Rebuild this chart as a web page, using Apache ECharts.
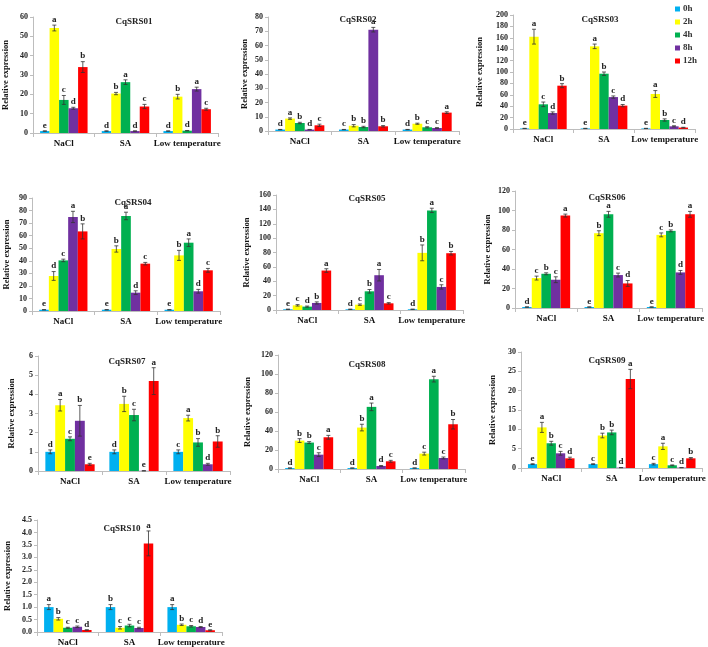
<!DOCTYPE html>
<html>
<head>
<meta charset="utf-8">
<script src="https://cdn.jsdelivr.net/npm/echarts@6/dist/echarts.min.js"></script>
<style>html,body{margin:0;padding:0;background:#fff}#c{width:708px;height:647px}</style>
</head>
<body>
<div id="c"></div>
<script>
const genes = ['CqSRS01','CqSRS02','CqSRS03','CqSRS04','CqSRS05','CqSRS06','CqSRS07','CqSRS08','CqSRS09','CqSRS10'];
const conditions = ['NaCl','SA','Low temperature'];
const times = ['0h','2h','4h','8h','12h'];
const yMax = [60, 80, 200, 90, 160, 120, 6, 120, 30, 4.5];
const yStep = [10, 10, 20, 10, 20, 20, 1, 20, 5, 0.5];

// rows: NaCl, SA, Low temperature; columns: 0h, 2h, 4h, 8h, 12h
const mean01 = [[1,54.3,17.1,12.8,34.1],[1,20.4,26.3,1,13.7],[1,18.8,1.2,22.7,12.3]];
const err01  = [[0.1,1.5,2.3,0.5,2.8],[0.1,0.6,1.2,0.1,1.1],[0.1,1.2,0.1,1.0,0.5]];
const sig01  = [['e','a','c','d','b'],['d','b','a','d','c'],['d','b','d','a','c']];

const mean02 = [[1,8.7,5.6,1,4],[1,3.7,2.8,71.1,3.3],[1,5.1,2.6,2.1,12.9]];
const err02  = [[0.1,0.5,0.5,0.1,0.8],[0.1,0.8,0.5,1.6,0.5],[0.1,0.4,0.4,0.3,0.6]];
const sig02  = [['d','a','b','d','c'],['c','b','b','a','b'],['d','b','c','c','a']];

const mean03 = [[1,162,43.3,28,76],[1,145,97,56,41],[1,61.4,15.8,4.7,2.5]];
const err03  = [[0.2,13,4,2,3.5],[0.2,4,3,2,2],[0.2,6,2,1,0.5]];
const sig03  = [['e','a','c','d','b'],['e','a','b','c','d'],['e','a','b','c','d']];

const mean04 = [[1,27.9,40.3,74.9,63.4],[1,49.4,75.7,14.6,37.7],[1,44.3,54.4,15.7,32.4]];
const err04  = [[0.1,3.5,1,4.5,6],[0.1,2.5,3,1.5,1],[0.1,4,3,1.5,1.5]];
const sig04  = [['e','d','c','a','b'],['e','b','a','d','c'],['e','b','a','d','c']];

const mean05 = [[1,6.5,4.7,9.8,54.9],[1,7.4,26,48.4,9.3],[1,79.5,138.6,32.1,79]];
const err05  = [[0.2,1,0.8,1.5,2.5],[0.2,1,2.5,8,1],[0.2,11,3,3,2.5]];
const sig05  = [['e','c','d','b','a'],['d','c','b','a','c'],['d','b','a','c','b']];

const mean06 = [[1,30.7,35.1,29,94.8],[1,76.7,96.1,33.8,25.2],[1,75,79.1,36.5,96.1]];
const err06  = [[0.2,2,1,3,1.5],[0.2,2.5,3,2,3],[0.2,2,1,2,3]];
const sig06  = [['d','c','b','c','a'],['e','b','a','c','d'],['e','c','b','d','a']];

const mean07 = [[1,3.43,1.68,2.62,0.35],[1,3.5,2.92,0.01,4.69],[1,2.76,1.49,0.35,1.54]];
const err07  = [[0.1,0.3,0.1,0.8,0.05],[0.1,0.4,0.3,0.01,0.7],[0.1,0.15,0.2,0.05,0.3]];
const sig07  = [['d','a','c','b','e'],['d','b','c','e','a'],['c','a','b','d','b']];

const mean08 = [[1,29.9,27.8,15.1,33.4],[1,43.6,65.4,3.2,8.1],[1,16.2,94.6,11.6,47.1]];
const err08  = [[0.1,2,1,2,2],[0.1,3.5,4,0.5,1],[0.1,1.5,3,1,5]];
const sig08  = [['d','b','b','c','a'],['d','b','a','d','c'],['d','c','a','c','b']];

const mean09 = [[1,10.5,6.4,3.8,2.5],[1,8.4,9.2,0.1,23],[1,5.6,0.7,0.1,2.5]];
const err09  = [[0.1,1.3,0.5,0.5,0.3],[0.1,0.6,0.6,0.02,2.5],[0.2,0.8,0.1,0.02,0.2]];
const sig09  = [['e','a','b','c','d'],['c','b','b','d','a'],['c','a','c','d','b']];

const mean10 = [[1,0.53,0.17,0.21,0.08],[1,0.17,0.26,0.16,3.56],[1,0.29,0.23,0.2,0.07]];
const err10  = [[0.1,0.05,0.02,0.03,0.01],[0.1,0.05,0.05,0.03,0.5],[0.1,0.03,0.03,0.02,0.02]];
const sig10  = [['a','b','c','c','d'],['b','c','c','c','a'],['a','b','c','d','e']];

const means = [mean01,mean02,mean03,mean04,mean05,mean06,mean07,mean08,mean09,mean10];
const errs  = [err01,err02,err03,err04,err05,err06,err07,err08,err09,err10];
const sigs  = [sig01,sig02,sig03,sig04,sig05,sig06,sig07,sig08,sig09,sig10];

// layout (pixels)
const grids = [
  [32,17,186,116],[268,17,191,114],[513,15,182,114],
  [32,198,188,113],[276,195,187,115],[515,191,187,117],
  [38,356,192,115],[278,355,187,114],[521,352,186,116],
  [37,520,185,113]
];
const titlePos = [[129,12],[353,10],[595,10],[128,193],[362,189],[602,188],[122,352],[362,355],[602,351],[117,519]];
const nameGaps = [23,19,29,21,25,23,22,26,24,25];
const colors = ['#00B0F0','#FFFF00','#00B050','#7030A0','#FF0000'];
const FONT = '"Liberation Serif", "DejaVu Serif", serif';
const CATGAP = 0.23;

const chart = echarts.init(document.getElementById('c'), null, {renderer:'canvas'});
const option = {
  backgroundColor:'#fff',
  animation:false,
  title: [], grid: [], xAxis: [], yAxis: [], series: [],
  legend: {
    data: times, orient:'vertical', left: 670, top: -1,
    itemWidth: 5, itemHeight: 5, itemGap: 3, icon:'rect',
    textStyle: {fontFamily: FONT, fontWeight:'bold', fontSize: 9, color:'#333', lineHeight: 10, padding:[0,0,0,-2]}
  }
};

genes.forEach((g, gi) => {
  const [l,t,w,h] = grids[gi];
  option.grid.push({left:l, top:t, width:w, height:h, containLabel:false});
  option.title.push({text:g, left:titlePos[gi][0], top:titlePos[gi][1], textAlign:'center',
    textStyle:{fontFamily:FONT, fontWeight:'bold', fontSize:9, color:'#222'}});
  option.xAxis.push({type:'category', gridIndex:gi, data:conditions,
    axisLine:{lineStyle:{color:'#bdbdbd', width:1}},
    axisTick:{show:true, length:4, lineStyle:{color:'#bdbdbd'}},
    axisLabel:{fontFamily:FONT, fontWeight:'bold', fontSize:9, color:'#111', margin:6, interval:0}});
  option.yAxis.push({type:'value', gridIndex:gi, min:0, max:yMax[gi], interval:yStep[gi],
    name:'Relative expression', nameLocation:'middle', nameGap:nameGaps[gi],
    nameTextStyle:{fontFamily:FONT, fontWeight:'bold', fontSize:8.5, color:'#111'},
    axisLine:{show:true, lineStyle:{color:'#bdbdbd', width:1}},
    axisTick:{show:true, length:3, lineStyle:{color:'#bdbdbd'}},
    splitLine:{show:false},
    axisLabel:{fontFamily:FONT, fontWeight:'bold', fontSize:8, color:'#222', margin:5,
      formatter: v => gi === 9 ? v.toFixed(1) : String(v)}});
  times.forEach((tm, ti) => {
    option.series.push({type:'bar', name:tm, xAxisIndex:gi, yAxisIndex:gi,
      data: conditions.map((c, ci) => means[gi][ci][ti]),
      barGap:'0%', barCategoryGap:(CATGAP*100)+'%',
      itemStyle:{color:colors[ti]}, emphasis:{disabled:true}});
  });
  const items = [], letters = [];
  conditions.forEach((c, ci) => times.forEach((tm, ti) => {
    items.push([ci, ti, means[gi][ci][ti], errs[gi][ci][ti]]);
    letters.push(sigs[gi][ci][ti]);
  }));
  option.series.push({type:'custom', xAxisIndex:gi, yAxisIndex:gi, data:items,
    encode:{x:0, y:2}, z:10, silent:true,
    renderItem:(params, api) => {
      const ci = api.value(0), ti = api.value(1), m = api.value(2), e = api.value(3);
      const band = api.size([1,0])[0];
      const bw = band*(1-CATGAP)/5;
      const cx = api.coord([ci,0])[0] + (ti-2)*bw;
      const yt = api.coord([ci, m+e])[1];
      const yb = api.coord([ci, Math.max(0, m-e)])[1];
      const cap = 2;
      const st = {stroke:'#333', lineWidth:0.8};
      return {type:'group', children:[
        {type:'line', shape:{x1:cx, y1:yt, x2:cx, y2:yb}, style:st},
        {type:'line', shape:{x1:cx-cap, y1:yt, x2:cx+cap, y2:yt}, style:st},
        {type:'line', shape:{x1:cx-cap, y1:yb, x2:cx+cap, y2:yb}, style:st},
        {type:'text', x:cx, y:yt-1, style:{text:letters[params.dataIndex], x:0, y:0,
          align:'center', verticalAlign:'bottom', font:'bold 9px '+FONT, fill:'#222'}}
      ]};
    }});
});

chart.setOption(option);
</script>
</body>
</html>
